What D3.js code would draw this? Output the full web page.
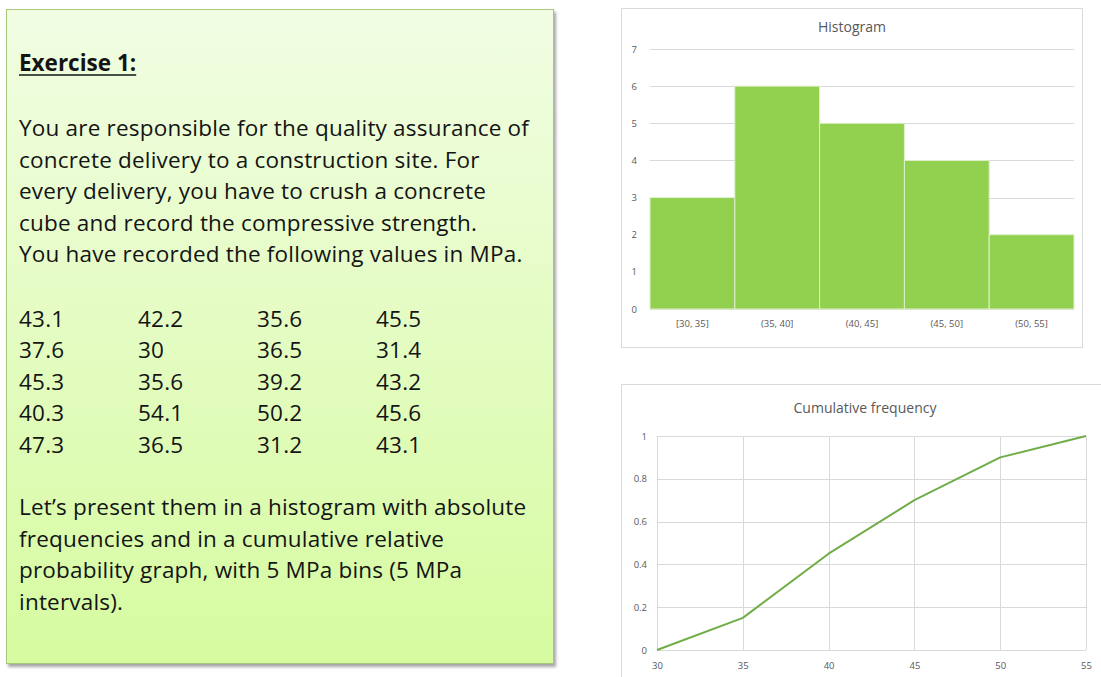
<!DOCTYPE html>
<html>
<head>
<meta charset="utf-8">
<script src="https://cdn.jsdelivr.net/npm/d3@7"></script>
<style>
  html, body { margin: 0; padding: 0; background: #ffffff; }
  svg { display: block; }
  text { font-family: "Open Sans", "Noto Sans", sans-serif; }
</style>
</head>
<body>
<svg id="page" width="1101" height="677"></svg>
<script>
// Compressive strength readings (MPa), laid out in four columns as recorded
const strengthRows = [
  ["43.1", "42.2", "35.6", "45.5"],
  ["37.6", "30",   "36.5", "31.4"],
  ["45.3", "35.6", "39.2", "43.2"],
  ["40.3", "54.1", "50.2", "45.6"],
  ["47.3", "36.5", "31.2", "43.1"]
];

const introLines = [
  "You are responsible for the quality assurance of",
  "concrete delivery to a construction site. For",
  "every delivery, you have to crush a concrete",
  "cube and record the compressive strength.",
  "You have recorded the following values in MPa."
];
const taskLines = [
  "Let\u2019s present them in a histogram with absolute",
  "frequencies and in a cumulative relative",
  "probability graph, with 5 MPa bins (5 MPa",
  "intervals)."
];

// Histogram: 5 MPa bins and their absolute frequencies
const binLabels = ["[30, 35]", "(35, 40]", "(40, 45]", "(45, 50]", "(50, 55]"];
const binCounts = [3, 6, 5, 4, 2];
const histTicks = [0, 1, 2, 3, 4, 5, 6, 7];

// Cumulative relative frequency at each bin edge
const edges = [30, 35, 40, 45, 50, 55];
const cumFreq = [0, 0.15, 0.45, 0.70, 0.90, 1.0];
const cumTicks = [0, 0.2, 0.4, 0.6, 0.8, 1];

const svg = d3.select("#page");
const defs = svg.append("defs");

// ---------- exercise text panel ----------
const grad = defs.append("linearGradient")
  .attr("id", "panelFill").attr("x1", 0).attr("y1", 0).attr("x2", 0).attr("y2", 1);
grad.append("stop").attr("offset", "0%").attr("stop-color", "#f1fde3");
grad.append("stop").attr("offset", "100%").attr("stop-color", "#d6fba0");

const shadow = defs.append("filter").attr("id", "panelShadow")
  .attr("x", "-5%").attr("y", "-5%").attr("width", "110%").attr("height", "110%");
shadow.append("feGaussianBlur").attr("in", "SourceAlpha").attr("stdDeviation", 1.6).attr("result", "b");
shadow.append("feOffset").attr("in", "b").attr("dx", 2).attr("dy", 2.5).attr("result", "o");
shadow.append("feComponentTransfer").attr("in", "o").attr("result", "s")
  .append("feFuncA").attr("type", "linear").attr("slope", 0.35);
const merge = shadow.append("feMerge");
merge.append("feMergeNode").attr("in", "s");
merge.append("feMergeNode").attr("in", "SourceGraphic");

const panel = svg.append("g");
panel.append("rect")
  .attr("x", 6.5).attr("y", 9.5).attr("width", 547).attr("height", 654)
  .attr("fill", "url(#panelFill)").attr("stroke", "#a8c67c").attr("stroke-width", 1)
  .attr("filter", "url(#panelShadow)");

const bodySize = 22.5;
const tracking = 0.2;
const textLeft = 19;
const ink = "#141414";

const heading = panel.append("text")
  .attr("x", textLeft).attr("y", 71)
  .attr("font-size", bodySize).attr("font-weight", "bold").attr("fill", ink)
  .text("Exercise 1:");
const hw = heading.node().getComputedTextLength();
panel.append("line")
  .attr("x1", textLeft).attr("x2", textLeft + hw)
  .attr("y1", 75).attr("y2", 75)
  .attr("stroke", ink).attr("stroke-width", 1.6);

panel.selectAll("text.intro").data(introLines).join("text")
  .attr("class", "intro")
  .attr("x", textLeft).attr("y", (d, i) => 136 + i * 31.6)
  .attr("font-size", bodySize).attr("letter-spacing", tracking).attr("fill", ink)
  .text(d => d);

const colX = [19, 138, 257, 376];
strengthRows.forEach((row, r) => {
  panel.selectAll(null).data(row).join("text")
    .attr("x", (d, c) => colX[c]).attr("y", 327 + r * 31.4)
    .attr("font-size", bodySize).attr("letter-spacing", tracking).attr("fill", ink)
    .text(d => d);
});

panel.selectAll("text.task").data(taskLines).join("text")
  .attr("class", "task")
  .attr("x", textLeft).attr("y", (d, i) => 515 + i * 31.6)
  .attr("font-size", bodySize).attr("letter-spacing", tracking).attr("fill", ink)
  .text(d => d);

// ---------- histogram ----------
const axisInk = "#595959";
const gridInk = "#d9d9d9";
const tickSize = 9.5;

svg.append("rect")
  .attr("x", 621.5).attr("y", 8.5).attr("width", 461).attr("height", 339)
  .attr("fill", "#ffffff").attr("stroke", gridInk);

svg.append("text")
  .attr("x", 852).attr("y", 32).attr("text-anchor", "middle")
  .attr("font-size", 14).attr("fill", axisInk)
  .text("Histogram");

const hx = d3.scaleBand().domain(binLabels).range([650, 1074]).padding(0);
const hy = d3.scaleLinear().domain([0, 7]).range([309, 49]);

const hGrid = svg.append("g");
hGrid.selectAll("line").data(histTicks).join("line")
  .attr("x1", 650).attr("x2", 1074)
  .attr("y1", d => Math.round(hy(d)) + 0.5).attr("y2", d => Math.round(hy(d)) + 0.5)
  .attr("stroke", gridInk).attr("stroke-width", 1);

svg.append("g").selectAll("rect").data(binCounts).join("rect")
  .attr("x", (d, i) => hx(binLabels[i]))
  .attr("y", d => hy(d))
  .attr("width", hx.bandwidth())
  .attr("height", d => hy(0) - hy(d))
  .attr("fill", "#92d050")
  .attr("stroke", "#dff0cc").attr("stroke-width", 1);

function styleTicks(g) {
  g.select(".domain").remove();
  g.selectAll("text").attr("font-size", tickSize).attr("fill", axisInk)
    .attr("font-family", "'Open Sans', sans-serif");
}

svg.append("g")
  .attr("transform", "translate(637,0)")
  .call(d3.axisLeft(hy).tickValues(histTicks).tickFormat(d3.format("d")).tickSize(0).tickPadding(0))
  .call(styleTicks);

svg.append("g")
  .attr("transform", "translate(0,320)")
  .call(d3.axisBottom(hx).tickSize(0).tickPadding(0))
  .call(styleTicks);

// ---------- cumulative frequency ----------
svg.append("rect")
  .attr("x", 621.5).attr("y", 384.5).attr("width", 500).attr("height", 320)
  .attr("fill", "#ffffff").attr("stroke", gridInk);

svg.append("text")
  .attr("x", 865).attr("y", 413).attr("text-anchor", "middle")
  .attr("font-size", 14).attr("fill", axisInk)
  .text("Cumulative frequency");

const cx = d3.scaleLinear().domain([30, 55]).range([657, 1086]);
const cy = d3.scaleLinear().domain([0, 1]).range([650, 436]);

const cGrid = svg.append("g");
cGrid.selectAll("line.h").data(cumTicks).join("line")
  .attr("class", "h")
  .attr("x1", cx(30)).attr("x2", cx(55))
  .attr("y1", d => Math.round(cy(d)) + 0.5).attr("y2", d => Math.round(cy(d)) + 0.5)
  .attr("stroke", gridInk);
cGrid.selectAll("line.v").data(edges).join("line")
  .attr("class", "v")
  .attr("x1", d => Math.round(cx(d)) + 0.5).attr("x2", d => Math.round(cx(d)) + 0.5)
  .attr("y1", cy(1)).attr("y2", cy(0))
  .attr("stroke", gridInk);

const line = d3.line().x((d, i) => cx(edges[i])).y(d => cy(d));
svg.append("path").datum(cumFreq)
  .attr("d", line)
  .attr("fill", "none").attr("stroke", "#70ad47").attr("stroke-width", 2)
  .attr("stroke-linejoin", "round");

svg.append("g")
  .attr("transform", "translate(647,0)")
  .call(d3.axisLeft(cy).tickValues(cumTicks).tickFormat(d3.format("~g")).tickSize(0).tickPadding(0))
  .call(styleTicks);

svg.append("g")
  .attr("transform", "translate(0,662)")
  .call(d3.axisBottom(cx).tickValues(edges).tickSize(0).tickPadding(0))
  .call(styleTicks);
</script>
</body>
</html>
